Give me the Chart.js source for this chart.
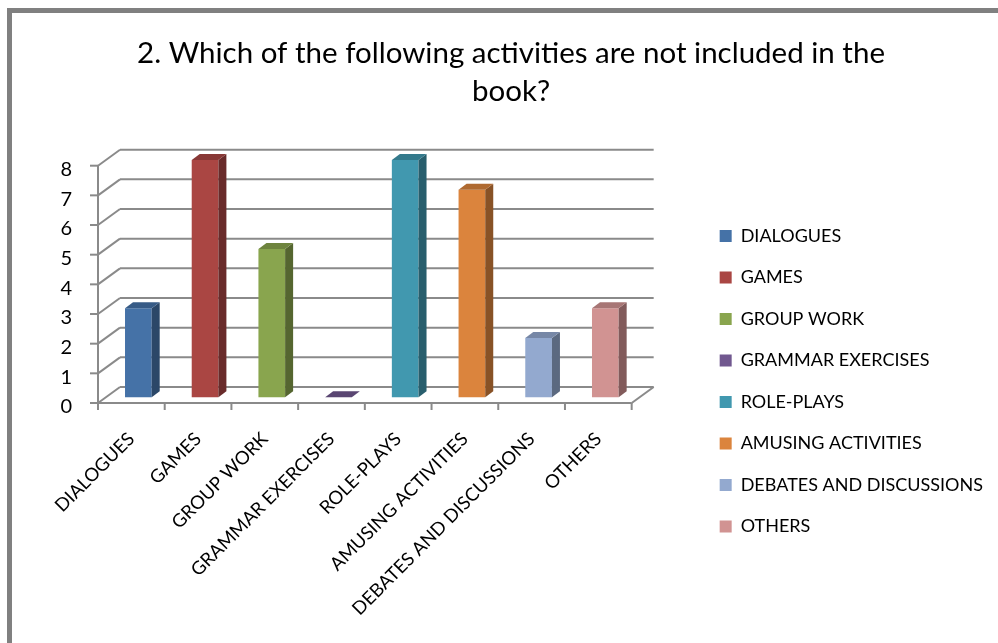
<!DOCTYPE html>
<html>
<head>
<meta charset="utf-8">
<title>Activities not included in the book</title>
<script src="https://cdn.jsdelivr.net/npm/chart.js@4.4.1/dist/chart.umd.min.js"></script>
<style>
  html, body { margin: 0; padding: 0; background: #fff; }
  #graph-container { width: 998px; height: 643px; }
</style>
</head>
<body>
<div id="graph-container"><canvas id="myChart" width="998" height="643"></canvas></div>
<script>
const categories = ['DIALOGUES', 'GAMES', 'GROUP WORK', 'GRAMMAR EXERCISES', 'ROLE-PLAYS',
  'AMUSING ACTIVITIES', 'DEBATES AND DISCUSSIONS', 'OTHERS'];
const answers = [3, 8, 5, 0, 8, 7, 2, 3];
const yTicks = [0, 1, 2, 3, 4, 5, 6, 7, 8];
const barColors = ['#4572A7', '#AA4643', '#89A54E', '#71588F', '#4198AF', '#DB843D', '#93A9CF', '#D19392'];

// 3d look: depth of the floor, where the bars sit in it and how thick they are
const DEPTH_X = 22, DEPTH_Y = 16;
const BAR_SHIFT_X = 7, BAR_SHIFT_Y = 5.7;
const BAR_DX = 8, BAR_DY = 6;
// legend sits apart from the plot, a bit lower than the top of the walls
const LEGEND_GAP = 64.5;
const LEGEND_TOP = 203.5;
const LINE_COLOR = '#8a8a8a';

Chart.defaults.font.family = 'Lato, "Open Sans", sans-serif';
Chart.defaults.color = '#000';

function shade(hex, f) {
  const n = parseInt(hex.slice(1), 16);
  const r = Math.round(((n >> 16) & 255) * f);
  const g = Math.round(((n >> 8) & 255) * f);
  const b = Math.round((n & 255) * f);
  return 'rgb(' + r + ',' + g + ',' + b + ')';
}

function line(ctx, x1, y1, x2, y2) {
  ctx.beginPath();
  ctx.moveTo(x1, y1);
  ctx.lineTo(x2, y2);
  ctx.stroke();
}

function poly(ctx, pts, color) {
  ctx.beginPath();
  ctx.moveTo(pts[0][0], pts[0][1]);
  for (let i = 1; i < pts.length; i++) ctx.lineTo(pts[i][0], pts[i][1]);
  ctx.closePath();
  ctx.fillStyle = color;
  ctx.fill();
}

// walls, floor and the side / top faces of the bars
const frame3d = {
  id: 'frame3d',
  beforeDraw(chart) {
    const ctx = chart.ctx;
    ctx.save();
    ctx.fillStyle = '#808080';
    ctx.fillRect(7, 8, chart.width - 7, 5);
    ctx.fillRect(7, 8, 5, chart.height - 8);
    ctx.restore();
  },
  beforeDatasetsDraw(chart) {
    const ctx = chart.ctx;
    const a = chart.chartArea;
    const x = chart.scales.x, y = chart.scales.y;
    ctx.save();
    ctx.strokeStyle = LINE_COLOR;
    ctx.lineWidth = 2;
    y.ticks.forEach(t => {
      const py = y.getPixelForValue(t.value);
      line(ctx, a.left + DEPTH_X, py - DEPTH_Y, a.right + DEPTH_X, py - DEPTH_Y);
      line(ctx, a.left, py, a.left + DEPTH_X, py - DEPTH_Y);
      line(ctx, a.left - 8, py, a.left, py);
    });
    line(ctx, a.left, a.top, a.left, a.bottom);
    line(ctx, a.left, a.bottom, a.right, a.bottom);
    line(ctx, a.right, a.bottom, a.right + DEPTH_X, a.bottom - DEPTH_Y);
    for (let i = 0; i <= categories.length; i++) {
      const px = x.getPixelForValue(i - 0.5);
      line(ctx, px, a.bottom, px, a.bottom + 7);
    }
    ctx.restore();
    ctx.save();
    ctx.translate(BAR_SHIFT_X, -BAR_SHIFT_Y);
  },
  afterDatasetsDraw(chart) {
    const ctx = chart.ctx;
    const meta = chart.getDatasetMeta(0);
    meta.data.forEach((bar, i) => {
      const p = bar.getProps(['x', 'y', 'base', 'width'], true);
      const l = p.x - p.width / 2, r = p.x + p.width / 2;
      const c = barColors[i];
      poly(ctx, [[r, p.y], [r + BAR_DX, p.y - BAR_DY], [r + BAR_DX, p.base - BAR_DY], [r, p.base]], shade(c, 0.62));
      poly(ctx, [[l, p.y], [r, p.y], [r + BAR_DX, p.y - BAR_DY], [l + BAR_DX, p.y - BAR_DY]], shade(c, 0.8));
    });
    ctx.restore();
  }
};

const legendGap = {
  id: 'legendGap',
  afterInit(chart) {
    const legend = chart.legend;
    const fit = legend.fit;
    legend.fit = function () {
      this.maxWidth = chart.width;
      fit.call(this);
      this.width += LEGEND_GAP;
    };
  },
  afterLayout(chart) {
    chart.legend.left += LEGEND_GAP;
    chart.legend.top = LEGEND_TOP;
  }
};

function createChart() {
  const ctx_live = document.getElementById('myChart');
  return new Chart(ctx_live, {
    type: 'bar',
    data: {
      labels: categories,
      datasets: [{
        data: answers,
        backgroundColor: barColors,
        borderWidth: 0,
        barPercentage: 0.4,
        categoryPercentage: 1,
        clip: false
      }]
    },
    options: {
      responsive: false,
      animation: false,
      layout: { padding: { left: 29, right: 5, top: 0, bottom: 25 } },
      plugins: {
        title: {
          display: true,
          text: ['2. Which of the following activities are not included in the', 'book?'],
          font: { size: 29.5, weight: 'normal', lineHeight: 1.288 },
          color: '#000',
          padding: { top: 34, bottom: 55.7 }
        },
        legend: {
          position: 'right',
          align: 'start',
          labels: {
            boxWidth: 12,
            boxHeight: 12,
            padding: 23.5,
            font: { size: 18 },
            generateLabels: () => categories.map((c, i) => ({
              text: c,
              fillStyle: barColors[i],
              strokeStyle: barColors[i],
              lineWidth: 0,
              hidden: false,
              index: i
            }))
          }
        },
        tooltip: { enabled: false }
      },
      scales: {
        x: {
          grid: { display: false, drawTicks: false },
          border: { display: false },
          ticks: { autoSkip: false, minRotation: 45, maxRotation: 45, padding: 25, font: { size: 18.5 } },
          afterFit(scale) { scale.height = 215; }
        },
        y: {
          min: 0,
          max: yTicks[yTicks.length - 1],
          grid: { display: false, drawTicks: false },
          border: { display: false },
          afterBuildTicks(scale) { scale.ticks = yTicks.map(v => ({ value: v })); },
          ticks: { padding: 26, labelOffset: 4, font: { size: 20 } },
          afterFit(scale) { scale.width = 69; }
        }
      }
    },
    plugins: [frame3d, legendGap]
  });
}

createChart();
</script>
</body>
</html>
